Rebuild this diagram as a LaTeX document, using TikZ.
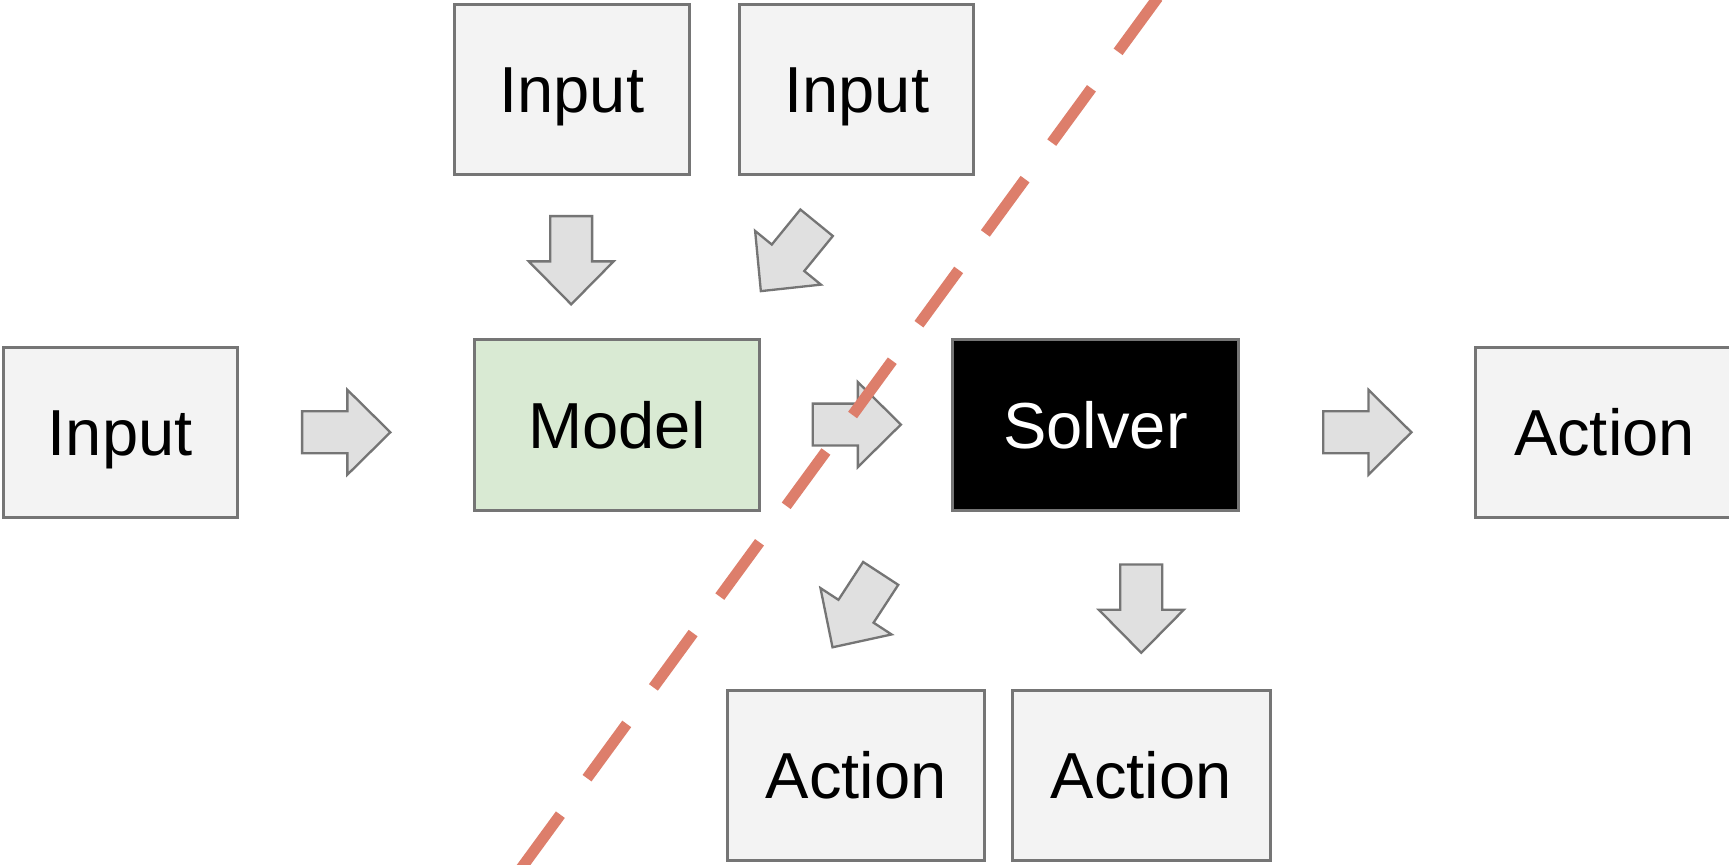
\documentclass[tikz,border=0pt]{standalone}
\usepackage{fontspec}
\setmainfont{Liberation Sans}
\definecolor{boxfill}{HTML}{F3F3F3}
\definecolor{boxline}{HTML}{757575}
\definecolor{arrfill}{HTML}{E0E0E0}
\definecolor{modelfill}{HTML}{D9EAD3}
\definecolor{cutline}{HTML}{DD7E6B}
\tikzset{
  box/.style={draw=boxline, fill=boxfill, line width=1.3pt, inner sep=0pt,
    text height=21.1pt, text depth=0pt,
    font=\fontsize{29.5}{34}\selectfont, text=black},
  barrowstyle/.style={draw=boxline, fill=arrfill, line width=1.05pt, line join=miter},
  barrow/.pic={\draw[barrowstyle] (0,0) -- (-39,38.5) -- (-39,19) -- (-80,19)
      -- (-80,-19) -- (-39,-19) -- (-39,-38.5) -- cycle;}
}
\begin{document}
\begin{tikzpicture}[x=0.5pt,y=-0.5pt]
\useasboundingbox (0,0) rectangle (1568,784);
\clip (0,0) rectangle (1568,784);
\fill[white] (0,0) rectangle (1568,784);
% boxes
\node[box, minimum width=106.5pt, minimum height=77pt] (in1) at (518.5,81) {Input};
\node[box, minimum width=106pt, minimum height=77pt] (in2) at (777,81) {Input};
\node[box, minimum width=106pt, minimum height=77pt] (in3) at (109,392) {Input};
\node[box, fill=modelfill, minimum width=129.5pt, minimum height=77.5pt] (model) at (559.5,385.5) {Model};
\node[box, fill=black, text=white, minimum width=129.5pt, minimum height=77.5pt] (solver) at (993.5,385.5) {Solver};
\node[box, minimum width=117pt, minimum height=77pt] (act1) at (1455,392) {Action};
\node[box, minimum width=116.5pt, minimum height=77pt] (act2) at (776.5,703) {Action};
\node[box, minimum width=117pt, minimum height=77pt] (act3) at (1035,703) {Action};
% block arrows (tips)
\coordinate (t1) at (518,276);
\coordinate (t2) at (690,264);
\coordinate (t3) at (354,392);
\coordinate (t4) at (817,385);
\coordinate (t5) at (1280,392);
\coordinate (t6) at (755,587);
\coordinate (t7) at (1035,592);
\pic[rotate=-90] at (t1) {barrow};
\pic[rotate=230.8] at (t2) {barrow};
\pic at (t3) {barrow};
\pic at (t4) {barrow};
\pic at (t5) {barrow};
\pic[rotate=236.9] at (t6) {barrow};
\pic[rotate=-90] at (t7) {barrow};
% cut line
\coordinate (c1) at (1050,-2.25);
\coordinate (c2) at (441.5,830);
\draw[cutline, line width=5pt, line cap=butt, dash pattern=on 30.5pt off 20.5pt] (c1) -- (c2);
\end{tikzpicture}
\end{document}
